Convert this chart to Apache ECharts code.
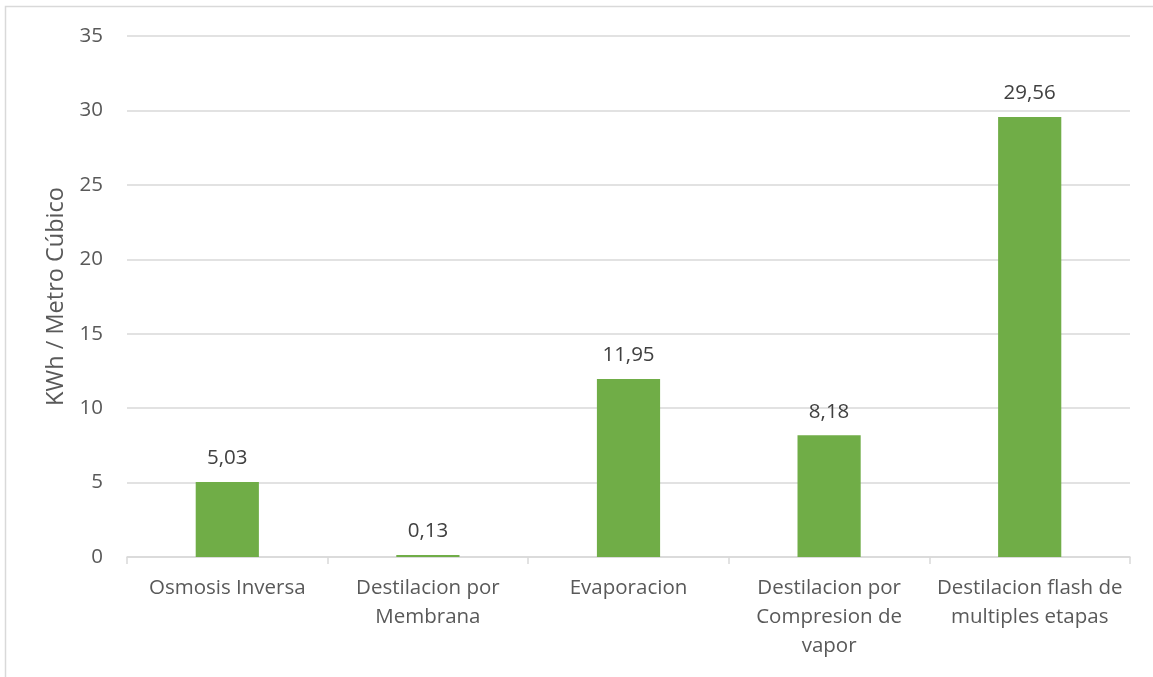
<!DOCTYPE html>
<html>
<head>
<meta charset="utf-8">
<script src="https://cdn.jsdelivr.net/npm/echarts@6/dist/echarts.min.js"></script>
<style>
    html, body { margin: 0; padding: 0; background: #fff; }
    #chart { width: 1153px; height: 677px; }
</style>
</head>
<body>
<div id="chart"></div>
<script>
// datos del grafico
var categorias = ['Osmosis Inversa', 'Destilacion por\nMembrana', 'Evaporacion', 'Destilacion por\nCompresion de\nvapor', 'Destilacion flash de\nmultiples etapas'];
var valores = [5.03, 0.13, 11.95, 8.18, 29.56];

var fuente = '"Open Sans", "Noto Sans", sans-serif';
var chart = echarts.init(document.getElementById('chart'));
var option = {
    animation: false,
    graphic: [{
        type: 'rect',
        shape: { x: 5.5, y: 6.5, width: 1200, height: 700 },
        style: { fill: 'none', stroke: '#d9d9d9', lineWidth: 1.5 },
        silent: true
    }],
    grid: {
        left: 127,
        right: 23,
        top: 36,
        bottom: 120
    },
    xAxis: {
        type: 'category',
        data: categorias,
        axisLine: { lineStyle: { color: '#d9d9d9', width: 1.5 } },
        axisTick: { show: true, length: 7, lineStyle: { color: '#d9d9d9', width: 1.5 } },
        axisLabel: {
            color: '#595959',
            fontFamily: fuente,
            fontSize: 20.5,
            lineHeight: 29,
            margin: 17,
            interval: 0
        }
    },
    yAxis: {
        type: 'value',
        min: 0,
        max: 35,
        interval: 5,
        name: 'KWh / Metro Cúbico',
        nameLocation: 'middle',
        nameGap: 58,
        nameTextStyle: { color: '#595959', fontFamily: fuente, fontSize: 23.5 },
        axisLine: { show: false },
        axisTick: { show: false },
        splitLine: { lineStyle: { color: '#d9d9d9', width: 1.5 } },
        axisLabel: { color: '#595959', fontFamily: fuente, fontSize: 20.5, margin: 24 }
    },
    series: [{
        type: 'bar',
        data: valores,
        barWidth: '31.5%',
        itemStyle: { color: '#70ad47' },
        label: {
            show: true,
            position: 'top',
            distance: 13,
            color: '#404040',
            fontFamily: fuente,
            fontSize: 20.5,
            formatter: function (p) {
                return p.value.toFixed(2).replace('.', ',');
            }
        }
    }]
};
chart.setOption(option);
</script>
</body>
</html>
